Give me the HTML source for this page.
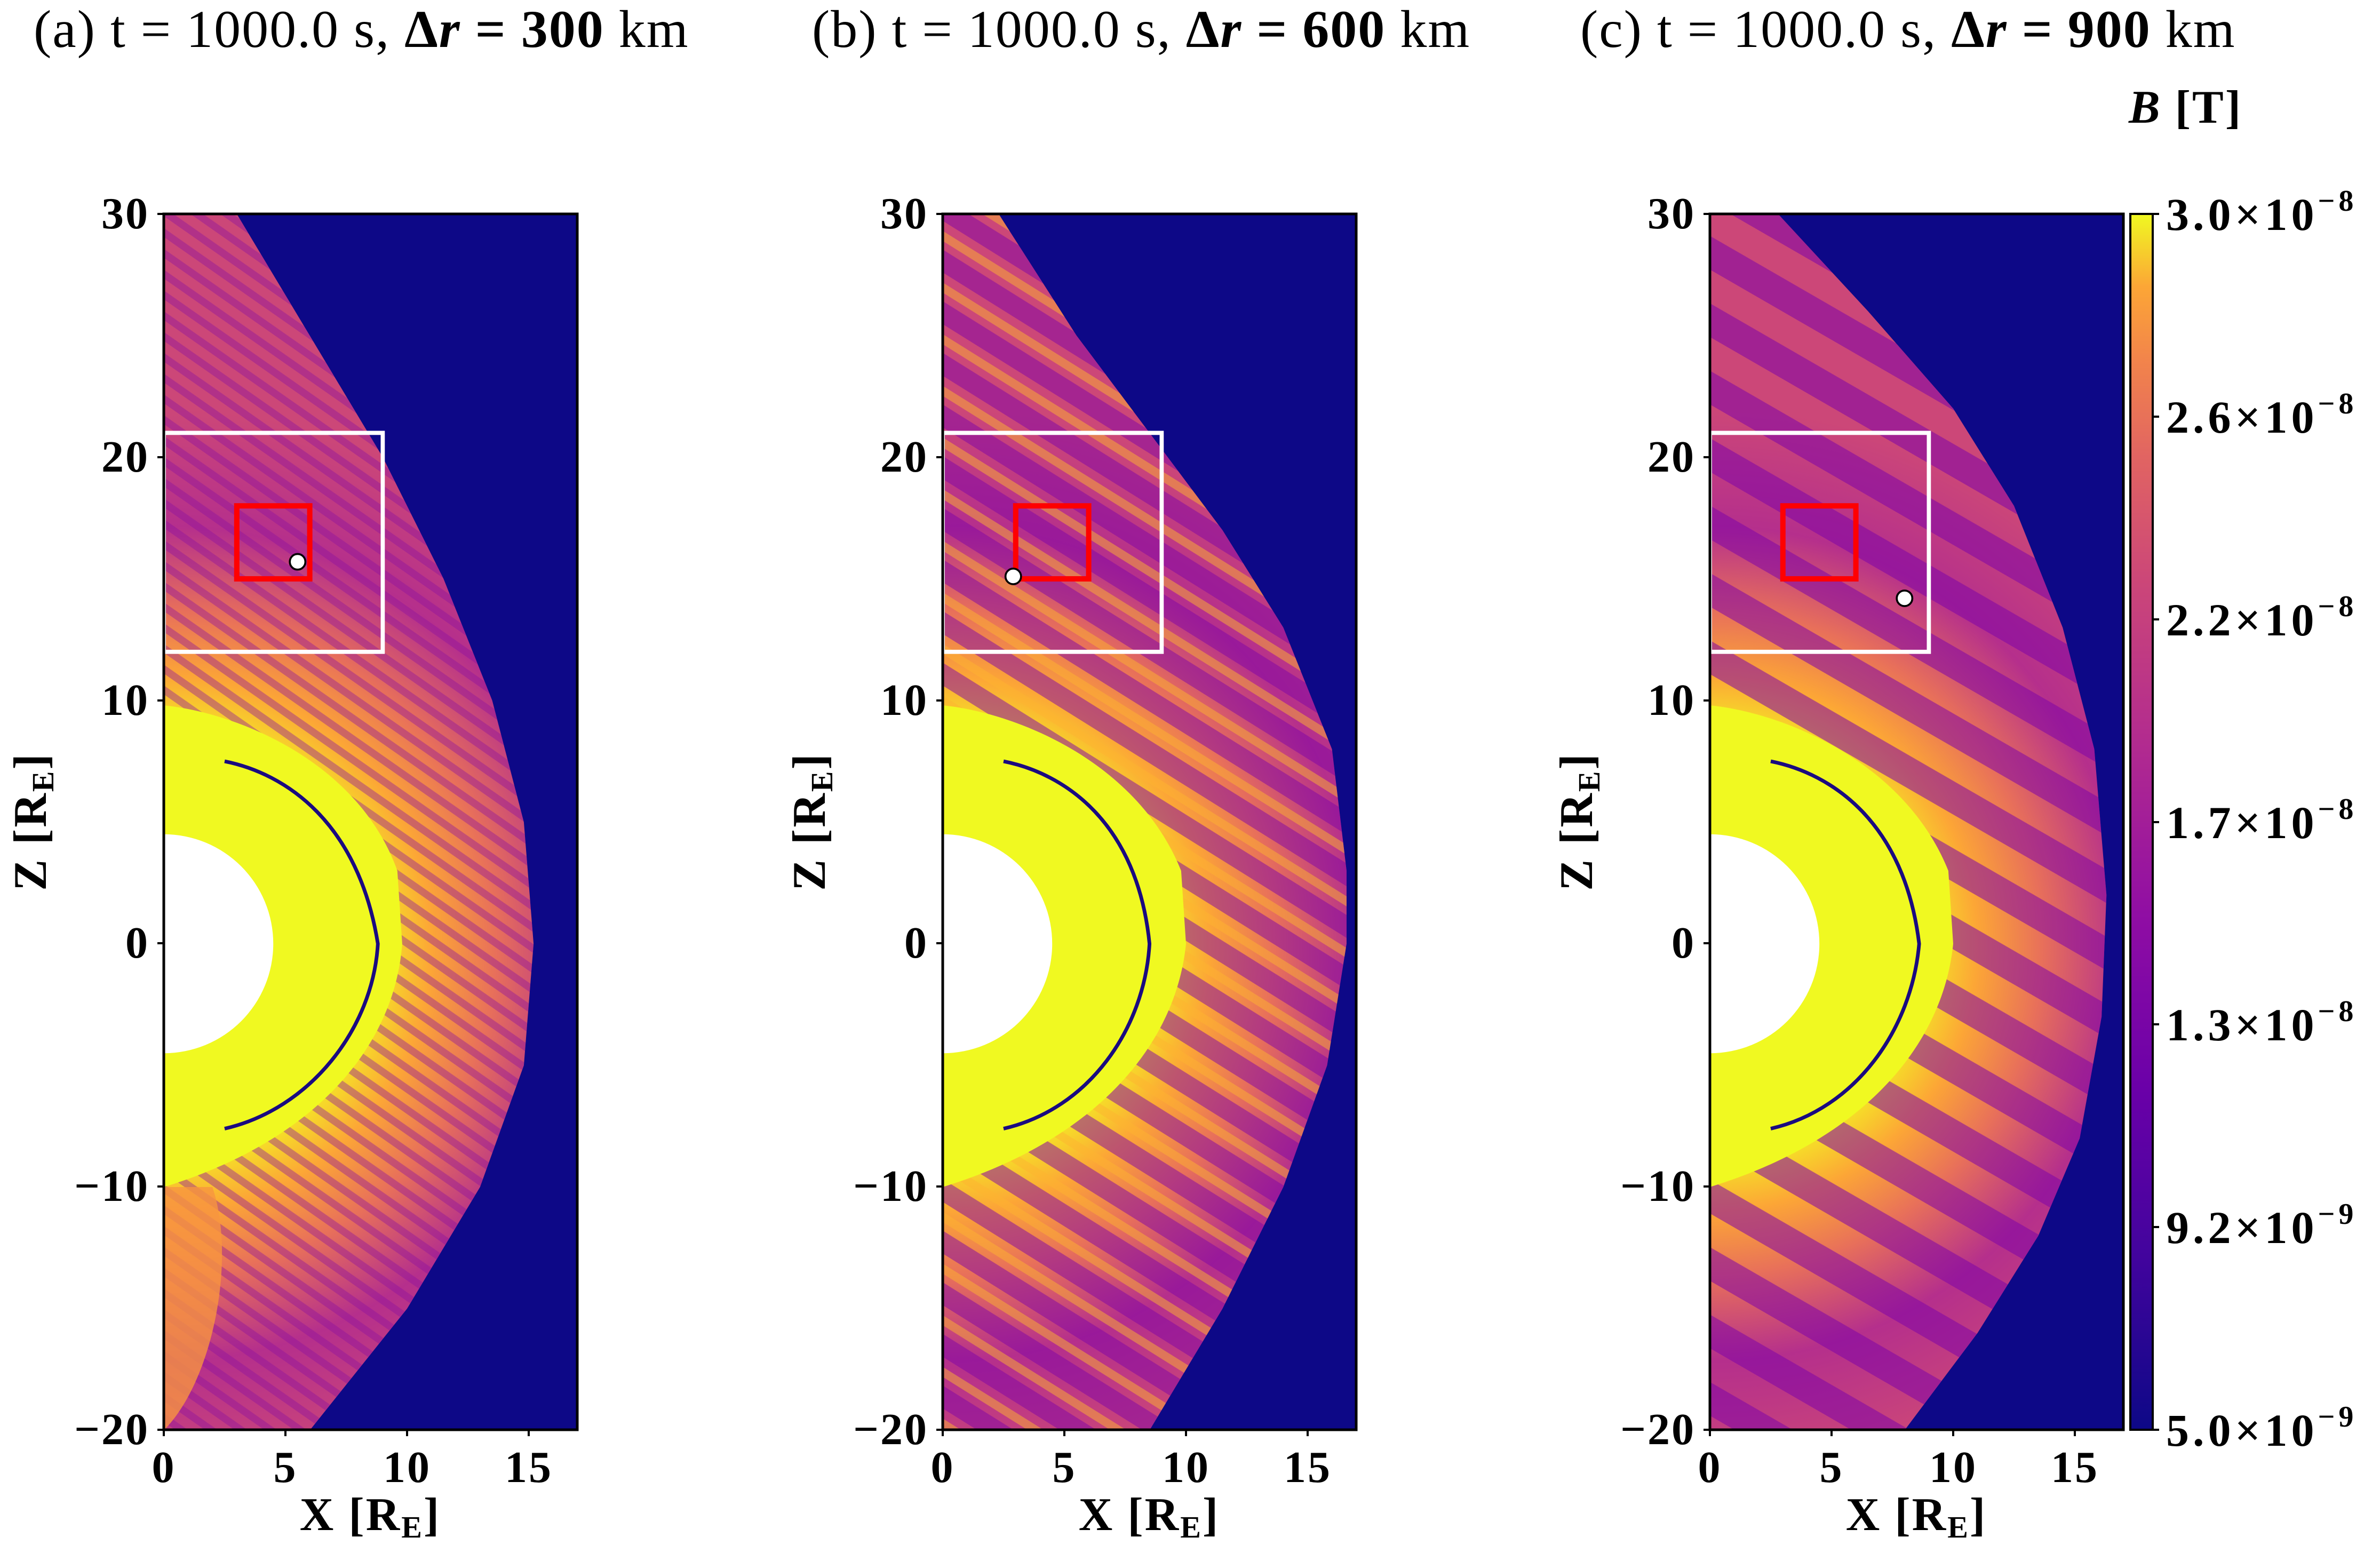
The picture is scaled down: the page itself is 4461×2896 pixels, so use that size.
<!DOCTYPE html>
<html><head><meta charset="utf-8"><style>
html,body{margin:0;padding:0;background:#fff}
svg{display:block}
text{font-family:"Liberation Serif",serif}
.t{font-size:100px;letter-spacing:2px}
.tk{font-size:84px;font-weight:bold;letter-spacing:3px}
.cbt{font-size:86px;font-weight:bold;letter-spacing:7px}
.lb{font-size:88px;font-weight:bold;letter-spacing:3px}
</style></head><body>
<svg width="4461" height="2896" viewBox="0 0 4461 2896" xmlns="http://www.w3.org/2000/svg">
<defs>
<radialGradient id="sh" gradientUnits="userSpaceOnUse" cx="0" cy="0" r="22">
<stop offset="0.40" stop-color="#f5e626"/>
<stop offset="0.50" stop-color="#fca636"/>
<stop offset="0.62" stop-color="#e8705a"/>
<stop offset="0.78" stop-color="#b52f8c"/>
<stop offset="1" stop-color="#cc4778"/>
</radialGradient>
<pattern id="pa" patternUnits="userSpaceOnUse" width="0.7" height="0.7" patternTransform="rotate(-35)">
<rect width="0.7" height="0.3" fill="#8a10a0" opacity="0.4"/></pattern>
<pattern id="pb" patternUnits="userSpaceOnUse" width="1.8" height="1.8" patternTransform="rotate(-32)">
<rect width="1.8" height="0.8" fill="#7e03a8" opacity="0.5"/><rect y="1.1" width="1.8" height="0.35" fill="#fdb42f" opacity="0.5"/></pattern>
<pattern id="pc" patternUnits="userSpaceOnUse" width="2.4" height="2.4" patternTransform="rotate(-30)">
<rect width="2.4" height="1.2" fill="#7e03a8" opacity="0.55"/></pattern>
<linearGradient id="cb" x1="0" y1="1" x2="0" y2="0">
<stop offset="0" stop-color="#0d0887"/><stop offset="0.14" stop-color="#41049d"/><stop offset="0.28" stop-color="#6a00a8"/><stop offset="0.42" stop-color="#8f0da4"/><stop offset="0.56" stop-color="#b12a90"/><stop offset="0.70" stop-color="#cc4778"/><stop offset="0.80" stop-color="#e16462"/><stop offset="0.88" stop-color="#f2844b"/><stop offset="0.94" stop-color="#fca636"/><stop offset="1" stop-color="#f0f921"/>
</linearGradient>
<clipPath id="ax"><rect x="0" y="-20" width="17" height="50"/></clipPath>
</defs>

<text class="t" x="63" y="88">(a) t = 1000.0 s, <tspan font-weight="bold">Δ<tspan font-style="italic">r</tspan> = 300</tspan> km</text>
<text class="t" x="1522" y="88">(b) t = 1000.0 s, <tspan font-weight="bold">Δ<tspan font-style="italic">r</tspan> = 600</tspan> km</text>
<text class="t" x="2962" y="88">(c) t = 1000.0 s, <tspan font-weight="bold">Δ<tspan font-style="italic">r</tspan> = 900</tspan> km</text>
<text class="lb" x="3990" y="230"><tspan font-style="italic">B</tspan> [T]</text>

<g transform="translate(307,401) scale(45.6,-45.6) translate(0,-30)">
<g clip-path="url(#ax)">
<rect x="0" y="-20" width="17" height="50" fill="#0d0887"/>
<path d="M0,30 L3,30 L6,25 L9,20 L11.5,15 L13.5,10 L14.8,5 L15.2,0 L14.8,-5 L13,-10 L10,-15 L6,-20 L0,-20Z" fill="url(#sh)"/>
<path d="M0,30 L3,30 L6,25 L9,20 L11.5,15 L13.5,10 L14.8,5 L15.2,0 L14.8,-5 L13,-10 L10,-15 L6,-20 L0,-20Z" fill="url(#pa)"/>
<path d="M0,9.8 C3,9.5 8,7.5 9.6,3 L9.8,0 C9.5,-4 6.5,-8 0,-10 Z" fill="#f0f921"/>
<path d="M2.5,7.5 C5,7 8,5 8.8,0 C8.6,-3.5 6,-6.8 2.5,-7.6" fill="none" stroke="#1a0a80" stroke-width="0.15"/>
<path d="M0,-10 L2,-10 C3,-13 2,-18 0,-20Z" fill="#f89540" opacity="0.8"/>
<circle cx="0" cy="0" r="4.5" fill="#fff"/>
<rect x="0" y="12" width="9" height="9" fill="none" stroke="#fff" stroke-width="0.17"/>
<rect x="3" y="15" width="3" height="3" fill="none" stroke="#f00" stroke-width="0.22"/>
<circle cx="5.5" cy="15.7" r="0.32" fill="#fff" stroke="#000" stroke-width="0.08"/>
</g></g>

<g transform="translate(1767,401) scale(45.6,-45.6) translate(0,-30)">
<g clip-path="url(#ax)">
<rect x="0" y="-20" width="17" height="50" fill="#0d0887"/>
<path d="M0,30 L2.3,30 L5.5,25 L8.5,21 L11.5,17 L14,13 L16,8 L16.6,3 L16.6,0 L15.8,-5 L14,-10 L11.5,-15 L8.5,-20 L0,-20Z" fill="url(#sh)"/>
<path d="M0,30 L2.3,30 L5.5,25 L8.5,21 L11.5,17 L14,13 L16,8 L16.6,3 L16.6,0 L15.8,-5 L14,-10 L11.5,-15 L8.5,-20 L0,-20Z" fill="url(#pb)"/>
<path d="M0,9.8 C3,9.5 8,7.5 9.8,3 L10,0 C9.6,-4 6.5,-8 0,-10 Z" fill="#f0f921"/>
<path d="M2.5,7.5 C5,7 8,5 8.5,0 C8.3,-3.5 6,-6.8 2.5,-7.6" fill="none" stroke="#1a0a80" stroke-width="0.15"/>
<circle cx="0" cy="0" r="4.5" fill="#fff"/>
<rect x="0" y="12" width="9" height="9" fill="none" stroke="#fff" stroke-width="0.17"/>
<rect x="3" y="15" width="3" height="3" fill="none" stroke="#f00" stroke-width="0.22"/>
<circle cx="2.9" cy="15.1" r="0.32" fill="#fff" stroke="#000" stroke-width="0.08"/>
</g></g>

<g transform="translate(3205,401) scale(45.6,-45.6) translate(0,-30)">
<g clip-path="url(#ax)">
<rect x="0" y="-20" width="17" height="50" fill="#0d0887"/>
<path d="M0,30 L2.8,30 L6.5,26 L10,22 L12.5,18 L14.5,13 L15.8,8 L16.3,2 L16.1,-3 L15.2,-8 L13.5,-12 L11,-16 L8,-20 L0,-20Z" fill="url(#sh)"/>
<path d="M0,30 L2.8,30 L6.5,26 L10,22 L12.5,18 L14.5,13 L15.8,8 L16.3,2 L16.1,-3 L15.2,-8 L13.5,-12 L11,-16 L8,-20 L0,-20Z" fill="url(#pc)"/>
<path d="M0,9.8 C3,9.5 8,7.5 9.8,3 L10,0 C9.6,-4 6.5,-8 0,-10 Z" fill="#f0f921"/>
<path d="M2.5,7.5 C5,7 8,5 8.6,0 C8.3,-3.5 6,-6.8 2.5,-7.6" fill="none" stroke="#1a0a80" stroke-width="0.15"/>
<circle cx="0" cy="0" r="4.5" fill="#fff"/>
<rect x="0" y="12" width="9" height="9" fill="none" stroke="#fff" stroke-width="0.17"/>
<rect x="3" y="15" width="3" height="3" fill="none" stroke="#f00" stroke-width="0.22"/>
<circle cx="8.0" cy="14.2" r="0.32" fill="#fff" stroke="#000" stroke-width="0.08"/>
</g></g>

<g fill="none" stroke="#000" stroke-width="5">
<rect x="307" y="401" width="775" height="2279"/>
<rect x="1767" y="401" width="775" height="2279"/>
<rect x="3205" y="401" width="775" height="2279"/>
</g>
<rect x="3993" y="401" width="42" height="2279" fill="url(#cb)"/>
<rect x="3993" y="401" width="42" height="2279" fill="none" stroke="#000" stroke-width="4"/>

<g stroke="#000" stroke-width="4">
<path d="M295,401h12M295,857h12M295,1313h12M295,1768h12M295,2224h12M295,2680h12"/>
<path d="M1755,401h12M1755,857h12M1755,1313h12M1755,1768h12M1755,2224h12M1755,2680h12"/>
<path d="M3193,401h12M3193,857h12M3193,1313h12M3193,1768h12M3193,2224h12M3193,2680h12"/>
<path d="M307,2680v12M535,2680v12M763,2680v12M991,2680v12"/>
<path d="M1767,2680v12M1995,2680v12M2223,2680v12M2451,2680v12"/>
<path d="M3205,2680v12M3433,2680v12M3661,2680v12M3889,2680v12"/>
<path d="M4035,401h12M4035,781h12M4035,1161h12M4035,1541h12M4035,1920h12M4035,2300h12M4035,2680h12"/>
</g>

<g class="tk" text-anchor="end">
<text x="280" y="428">30</text><text x="280" y="884">20</text><text x="280" y="1340">10</text><text x="280" y="1795">0</text><text x="280" y="2251">−10</text><text x="280" y="2707">−20</text>
<text x="1740" y="428">30</text><text x="1740" y="884">20</text><text x="1740" y="1340">10</text><text x="1740" y="1795">0</text><text x="1740" y="2251">−10</text><text x="1740" y="2707">−20</text>
<text x="3178" y="428">30</text><text x="3178" y="884">20</text><text x="3178" y="1340">10</text><text x="3178" y="1795">0</text><text x="3178" y="2251">−10</text><text x="3178" y="2707">−20</text>
</g>
<g class="tk" text-anchor="middle">
<text x="307" y="2778">0</text><text x="535" y="2778">5</text><text x="763" y="2778">10</text><text x="991" y="2778">15</text>
<text x="1767" y="2778">0</text><text x="1995" y="2778">5</text><text x="2223" y="2778">10</text><text x="2451" y="2778">15</text>
<text x="3205" y="2778">0</text><text x="3433" y="2778">5</text><text x="3661" y="2778">10</text><text x="3889" y="2778">15</text>
</g>
<g class="lb" text-anchor="middle">
<text x="694" y="2868">X [R<tspan font-size="58" dy="14">E</tspan><tspan dy="-14">]</tspan></text>
<text x="2154" y="2868">X [R<tspan font-size="58" dy="14">E</tspan><tspan dy="-14">]</tspan></text>
<text x="3592" y="2868">X [R<tspan font-size="58" dy="14">E</tspan><tspan dy="-14">]</tspan></text>
<text transform="translate(86,1540) rotate(-90)">Z [R<tspan font-size="58" dy="14">E</tspan><tspan dy="-14">]</tspan></text>
<text transform="translate(1546,1540) rotate(-90)">Z [R<tspan font-size="58" dy="14">E</tspan><tspan dy="-14">]</tspan></text>
<text transform="translate(2984,1540) rotate(-90)">Z [R<tspan font-size="58" dy="14">E</tspan><tspan dy="-14">]</tspan></text>
</g>
<g class="cbt">
<text x="4060" y="431">3.0×10<tspan font-size="56" dy="-36">−8</tspan></text>
<text x="4060" y="811">2.6×10<tspan font-size="56" dy="-36">−8</tspan></text>
<text x="4060" y="1191">2.2×10<tspan font-size="56" dy="-36">−8</tspan></text>
<text x="4060" y="1571">1.7×10<tspan font-size="56" dy="-36">−8</tspan></text>
<text x="4060" y="1950">1.3×10<tspan font-size="56" dy="-36">−8</tspan></text>
<text x="4060" y="2330">9.2×10<tspan font-size="56" dy="-36">−9</tspan></text>
<text x="4060" y="2710">5.0×10<tspan font-size="56" dy="-36">−9</tspan></text>
</g>
</svg>
</body></html>
